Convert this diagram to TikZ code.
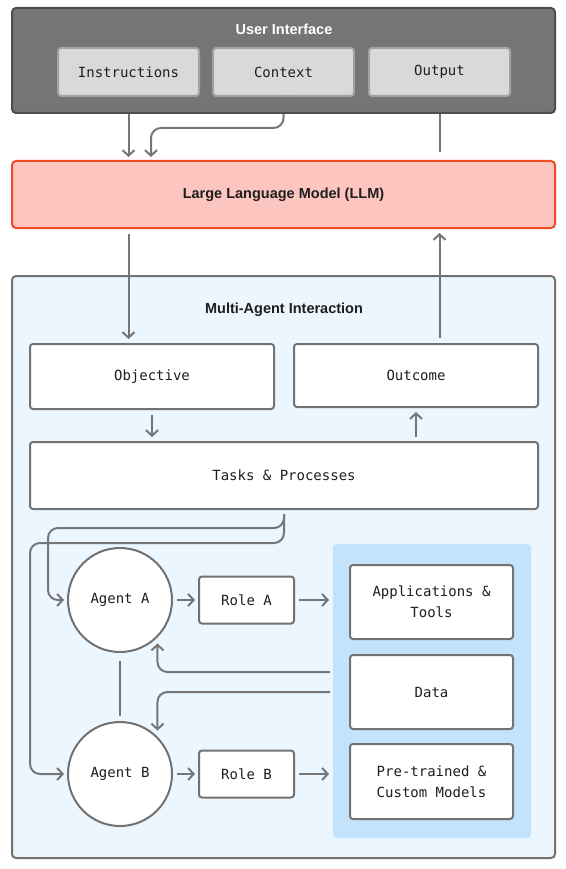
\documentclass[tikz,border=0pt]{standalone}
\usepackage{fontspec}
\setmainfont{Liberation Sans}
\setmonofont{DejaVu Sans Mono}
\usetikzlibrary{calc,arrows.meta}
\definecolor{uifill}{HTML}{757575}
\definecolor{uidraw}{HTML}{4E4E4E}
\definecolor{keyfill}{HTML}{D9D9D9}
\definecolor{keydraw}{HTML}{A2A2A2}
\definecolor{llmfill}{HTML}{FCC5BF}
\definecolor{llmdraw}{HTML}{F04B24}
\definecolor{mafill}{HTML}{EBF6FF}
\definecolor{boxdraw}{HTML}{727272}
\definecolor{panelfill}{HTML}{C3E3FC}
\definecolor{agray}{HTML}{767676}
\definecolor{txt}{HTML}{1E1E1E}

\begin{document}
\begin{tikzpicture}[x=1pt, y=-1pt, line width=2pt]
	\newcommand{\mw}{14}
	\tikzstyle{frame}=[rectangle, rounded corners=4, draw=boxdraw, minimum width=543]
	\tikzstyle{title}=[font=\bfseries\fontsize{14.5}{16}\selectfont, text=txt]
	\tikzstyle{box}=[rectangle, rounded corners=3, draw=boxdraw, fill=white, align=center, text=txt, font=\ttfamily\fontsize{\mw}{21}\selectfont]
	\tikzstyle{agent}=[circle, draw=boxdraw, fill=white, minimum size=104, text=txt, font=\ttfamily\fontsize{\mw}{21}\selectfont]
	\tikzstyle{arr}=[draw=agray, rounded corners=10, -{Straight Barb[length=5.5pt,width=12pt]}]
	\tikzstyle{link}=[draw=agray]
	\useasboundingbox (0,0) rectangle (565,869);

	% user interface
	\node[frame, fill=uifill, draw=uidraw, minimum height=105] (UI) at (283.5,60.5) {};
	\node[title, text=white] (UIt) at (284,29) {User Interface};
	\foreach \n/\x/\t in {Ins/128.5/Instructions, Ctx/283.5/Context, Outp/439.5/Output}
		{\node[box, fill=keyfill, draw=keydraw, minimum width=141, minimum height=48] (\n) at (\x,72) {\t}; }
	\node[text=keyfill, font=\fontsize{8}{8}\selectfont] (dots) at (288,95) {...};

	% llm
	\node[frame, fill=llmfill, draw=llmdraw, minimum height=67] (LLM) at (283.5,194.5) {};
	\node[title] (LLMt) at (LLM) {Large Language Model (LLM)};

	% multi-agent interaction
	\node[frame, fill=mafill, minimum height=582] (MA) at (283.5,567) {};
	\node[title] (MAt) at (284,310) {Multi-Agent Interaction};
	\node[box, minimum width=244, minimum height=65] (Obj) at (152,376.5) {Objective};
	\node[box, minimum width=244, minimum height=63] (Outc) at (416,375.5) {Outcome};
	\node[box, minimum width=508, minimum height=67] (Tasks) at (284,475.5) {Tasks \& Processes};

	% resources
	\node[rectangle, rounded corners=4, fill=panelfill, minimum width=198, minimum height=294] (Panel) at (432,691) {};
	\node[box, minimum width=163, minimum height=74] (Apps) at (431.5,602) {Applications \&\\Tools};
	\node[box, minimum width=163, minimum height=74] (Data) at (431.5,692) {Data};
	\node[box, minimum width=163, minimum height=75] (Mods) at (431.5,781.5) {Pre-trained \&\\Custom Models};

	% agents and roles
	\foreach \l/\y in {A/600, B/774}
		{\node[agent] (Ag\l) at (120,\y) {Agent \l};
		 \node[box, minimum width=95, minimum height=47] (Role\l) at (246.5,\y) {Role \l};
		 \draw[arr, shorten <=4pt, shorten >=3pt] (Ag\l) -- (Role\l);
		 \draw[arr, shorten <=4pt, shorten >=3pt] (Role\l) -- (Role\l -| Panel.west); }

	% connectors
	\coordinate (c1) at (151,128);
	\coordinate (ta) at (48,528);
	\coordinate (tb) at (30,543);
	\coordinate (da) at (330,672);
	\coordinate (db) at (330,692);
	\draw[arr, shorten >=3pt] (UI.south -| Ins) -- (LLM.north -| Ins);
	\draw[arr, shorten >=3pt] (UI.south -| Ctx) |- (c1) -- (LLM.north -| c1);
	\draw[link, shorten >=8pt] (UI.south -| Outp) -- (LLM.north -| Outp);
	\draw[arr, shorten <=5pt, shorten >=4pt] (LLM.south -| Ins) -- (Obj.north -| Ins);
	\draw[arr, shorten <=5pt, shorten >=4pt] (Outc.north -| Outp) -- (LLM.south -| Outp);
	\draw[arr, shorten <=5pt, shorten >=4pt] (Obj.south) -- (Tasks.north -| Obj);
	\draw[arr, shorten <=4pt, shorten >=4pt] (Tasks.north -| Outc) -- (Outc.south);
	\draw[arr, shorten <=4pt, shorten >=3pt] (Tasks.south) |- (ta) |- (AgA.west);
	\draw[arr, shorten <=4pt, shorten >=3pt] (Tasks.south) |- (tb) |- (AgB.west);
	\draw[link, shorten <=8pt, shorten >=5pt] (AgA) -- (AgB);
	\draw[arr, shorten >=6pt] (da) -| (AgA.south east);
	\draw[arr, shorten >=6pt] (db) -| (AgB.north east);
\end{tikzpicture}
\end{document}
